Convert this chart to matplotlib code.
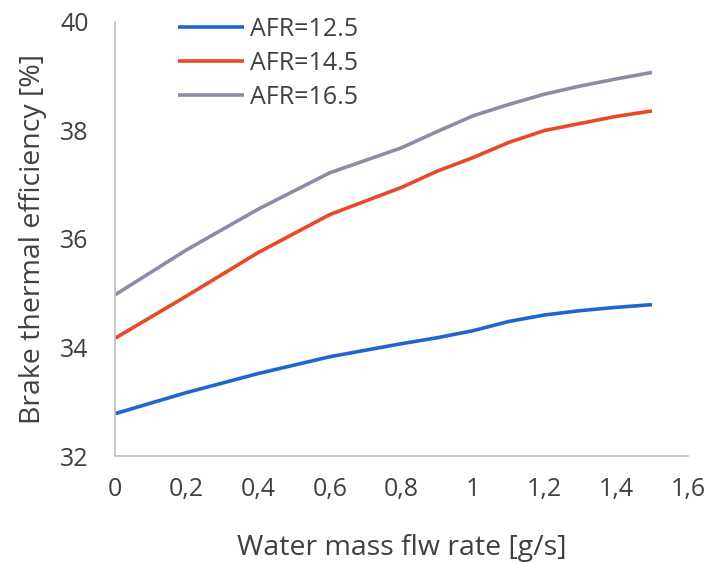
import numpy as np
import matplotlib
matplotlib.use("Agg")
import matplotlib.pyplot as plt
from matplotlib.ticker import FuncFormatter

plt.rcParams['font.family'] = ['Open Sans', 'DejaVu Sans']

# water mass flow rate [g/s]
flow = [0, 0.2, 0.4, 0.6, 0.8, 0.9, 1.0, 1.1, 1.2, 1.3, 1.4, 1.5]

# brake thermal efficiency [%]
afr_125 = [32.78, 33.17, 33.52, 33.83, 34.07, 34.18, 34.31, 34.48, 34.60, 34.68, 34.74, 34.79]
afr_145 = [34.17, 34.95, 35.75, 36.45, 36.95, 37.25, 37.50, 37.78, 38.00, 38.13, 38.26, 38.36]
afr_165 = [34.97, 35.80, 36.55, 37.22, 37.68, 37.98, 38.27, 38.48, 38.67, 38.82, 38.95, 39.07]

labels = ['AFR=12.5', 'AFR=14.5', 'AFR=16.5']
colors = ['#2166d0', '#e84a25', '#8c8ca6']

txt = '#404040'

fig = plt.figure(figsize=(7.12, 5.63), dpi=100)
ax = fig.add_axes([0.1615, 0.19, 0.8045, 0.771])

for y, lab, c in zip([afr_125, afr_145, afr_165], labels, colors):
    ax.plot(flow, y, color=c, lw=2.6, label=lab, solid_capstyle='butt')

ax.set_xlim(0, 1.6)
ax.set_ylim(32, 40)
ax.set_xticks(np.arange(0, 1.61, 0.2))
ax.set_yticks([32, 34, 36, 38, 40])

comma = FuncFormatter(lambda v, p: ('%g' % round(v, 1)).replace('.', ','))
ax.xaxis.set_major_formatter(comma)

for s in ['top', 'right']:
    ax.spines[s].set_visible(False)
for s in ['left', 'bottom']:
    ax.spines[s].set_color('#c0c0c0')
    ax.spines[s].set_linewidth(1.2)

ax.tick_params(axis='both', length=0, labelsize=18, colors=txt)
ax.tick_params(axis='x', pad=15)
ax.tick_params(axis='y', pad=19)

ax.set_xlabel('Water mass flw rate [g/s]', fontsize=20.5, color=txt, labelpad=23)
ax.set_ylabel('Brake thermal efficiency [%]', fontsize=20.5, color=txt, labelpad=9)

leg = ax.legend(loc='upper left', bbox_to_anchor=(0.11, 1.012), frameon=False,
                fontsize=18, handlelength=2.65, handletextpad=0.25,
                labelspacing=0.37, borderpad=0, borderaxespad=0)
for t in leg.get_texts():
    t.set_color(txt)

fig.savefig('out.png', dpi=100)
